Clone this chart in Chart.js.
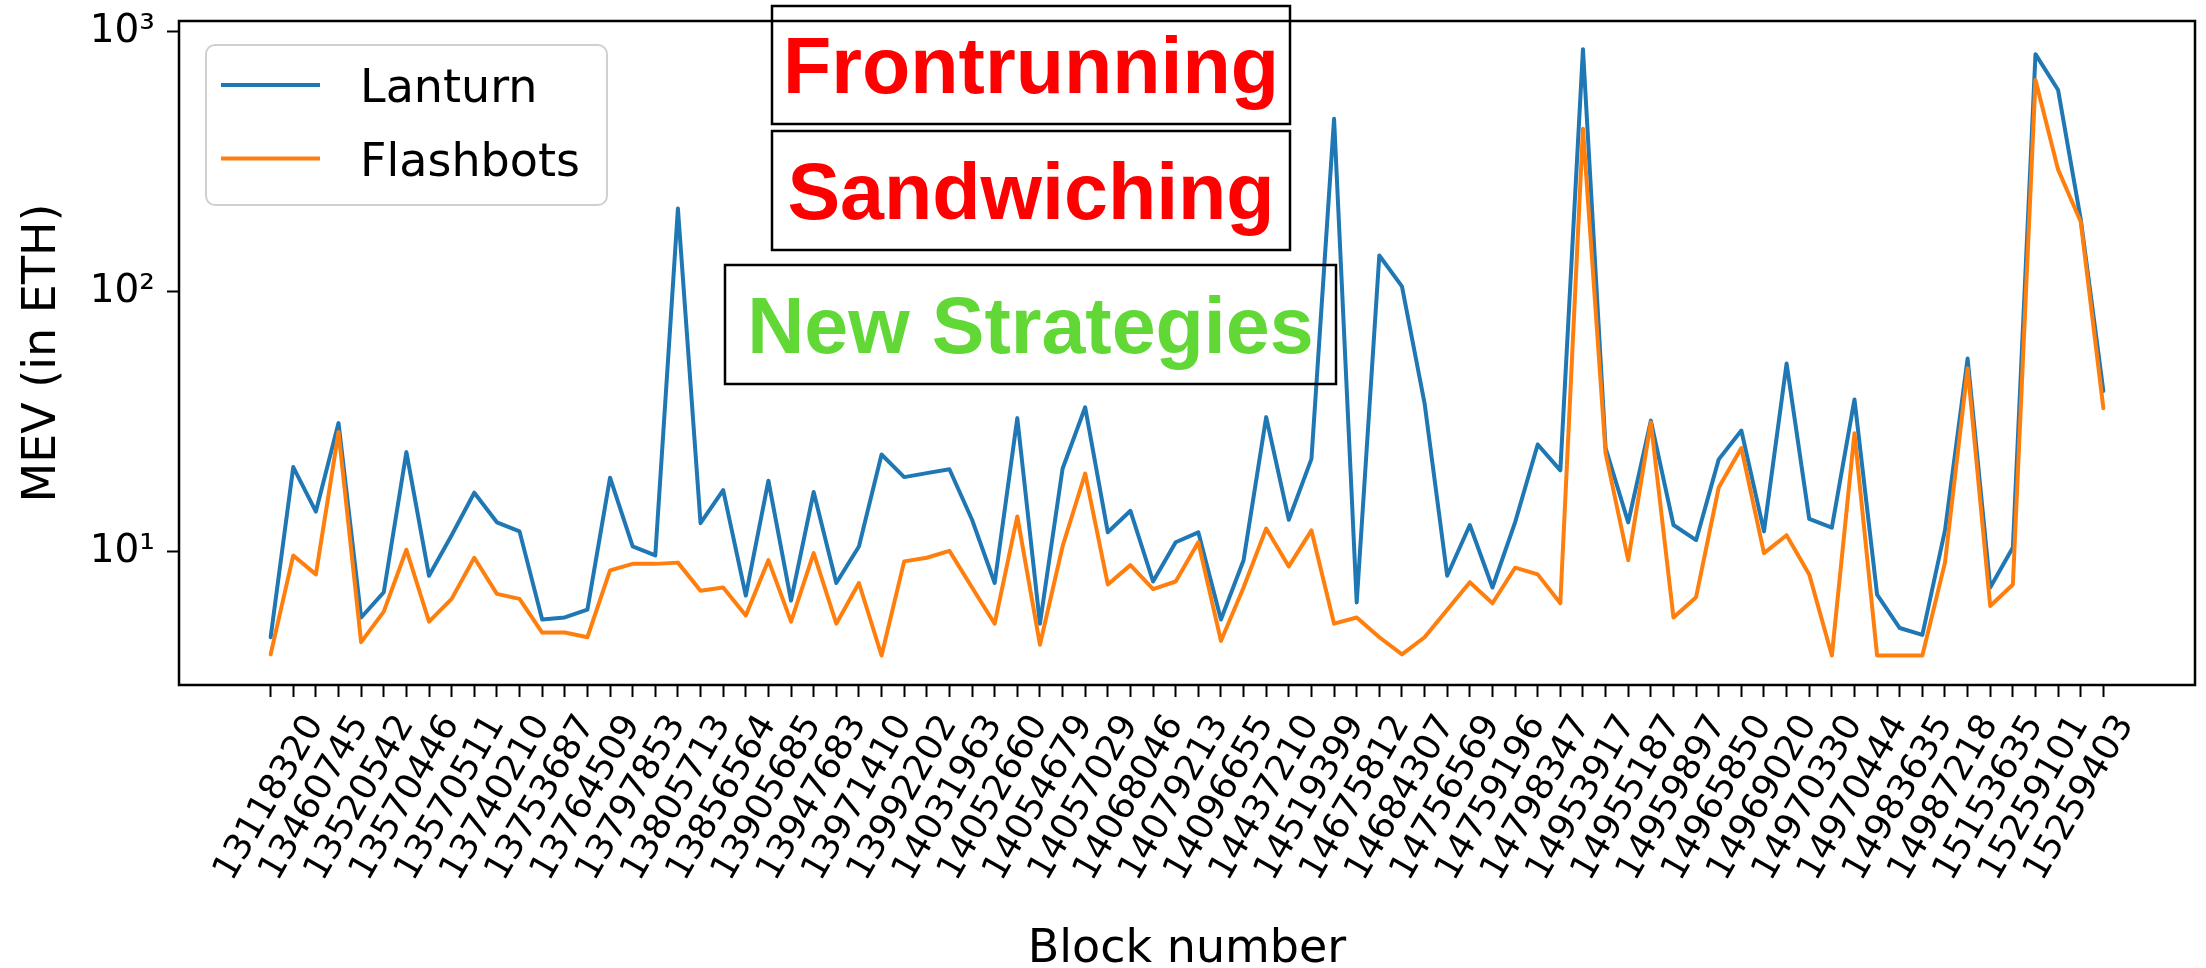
<!DOCTYPE html>
<html>
<head>
<meta charset="utf-8">
<title>MEV per block: Lanturn vs Flashbots</title>
<script src="https://cdn.jsdelivr.net/npm/chart.js@4.4.1/dist/chart.umd.min.js"></script>
<style>
  html, body { margin: 0; padding: 0; background: #ffffff; }
  #wrap { width: 2206px; height: 968px; position: relative; }
</style>
</head>
<body>
<div id="wrap"><canvas id="mev" width="2206" height="968"></canvas></div>
<script>
// Block numbers shown on the x axis (every other sampled block carries a label)
const blockLabels = [
  '13118320', '13460745', '13520542', '13570446', '13570511', '13740210', '13753687',
  '13764509', '13797853', '13805713', '13856564', '13905685', '13947683', '13971410',
  '13992202', '14031963', '14052660', '14054679', '14057029', '14068046', '14079213',
  '14096655', '14437210', '14519399', '14675812', '14684307', '14756569', '14759196',
  '14798347', '14953917', '14955187', '14959897', '14965850', '14969020', '14970330',
  '14970444', '14983635', '14987218', '15153635', '15259101', '15259403'
];

// MEV extracted per block (ETH)
const lanturn = [
  4.7, 21.2, 14.3, 31.3, 5.6, 7.0, 24.2, 8.1, 11.6, 16.9,
  13.0, 12.0, 5.5, 5.6, 6.0, 19.3, 10.5, 9.7, 209, 12.9,
  17.3, 6.8, 18.8, 6.5, 17.0, 7.6, 10.5, 23.7, 19.4, 20.1,
  20.8, 13.3, 7.6, 32.7, 5.3, 20.9, 36.0, 11.9, 14.4, 7.7,
  10.9, 11.9, 5.5, 9.3, 33.0, 13.3, 22.8, 463, 6.4, 138,
  105, 37.3, 8.1, 12.7, 7.3, 13.0, 25.9, 20.6, 857, 25.1,
  13.0, 32.0, 12.7, 11.1, 22.7, 29.3, 12.0, 53.0, 13.4, 12.4,
  38.6, 6.85, 5.1, 4.8, 12.1, 55.4, 7.3, 10.4, 820, 597,
  190, 41.6
];
const flashbots = [
  4.04, 9.7, 8.2, 28.9, 4.5, 5.9, 10.2, 5.4, 6.6, 9.5,
  6.9, 6.6, 4.9, 4.9, 4.7, 8.5, 9.0, 9.0, 9.1, 7.1,
  7.3, 5.7, 9.3, 5.4, 9.9, 5.3, 7.6, 4.0, 9.2, 9.5,
  10.1, 7.3, 5.3, 13.7, 4.4, 10.5, 20.0, 7.5, 8.9, 7.2,
  7.7, 10.9, 4.55, 7.3, 12.3, 8.8, 12.1, 5.3, 5.6, 4.7,
  4.04, 4.7, 6.0, 7.65, 6.35, 8.7, 8.2, 6.35, 424, 24.0,
  9.3, 31.5, 5.6, 6.7, 17.7, 25.1, 9.9, 11.6, 8.2, 4.0,
  28.6, 4.0, 4.0, 4.0, 9.1, 50.8, 6.2, 7.5, 653, 295,
  186, 35.7
];

// Log axis ticks
const yMajorTicks = [10, 100, 1000];
const yMajorLabels = ['10\u00B9', '10\u00B2', '10\u00B3'];
const yMinorTicks = [4, 5, 6, 7, 8, 9, 20, 30, 40, 50, 60, 70, 80, 90,
                     200, 300, 400, 500, 600, 700, 800, 900];

// Strategy tags written over the plot
const strategyTags = ['Frontrunning', 'Sandwiching', 'New Strategies'];

const pointIndex = lanturn.map((_, i) => i);
const toXY = arr => arr.map((v, i) => ({ x: i, y: v }));

const FONT = '"DejaVu Sans", "Noto Sans", sans-serif';

// Keep the plotting rectangle fixed: no extra room reserved for edge labels
const noEdgePadding = s => {
  s.paddingTop = 0; s.paddingBottom = 0; s.paddingLeft = 0; s.paddingRight = 0;
};

// Full box around the plotting area
const framePlugin = {
  id: 'frame',
  afterDatasetsDraw(chart) {
    const { ctx, chartArea: a } = chart;
    ctx.save();
    ctx.strokeStyle = '#000';
    ctx.lineWidth = 2.5;
    ctx.strokeRect(a.left, a.top, a.right - a.left, a.bottom - a.top);
    ctx.restore();
  }
};

// Boxed strategy labels
const tagPlugin = {
  id: 'strategyTags',
  afterDraw(chart) {
    const { ctx } = chart;
    const boxes = [
      { x: 772, y: 6, w: 518, h: 118, color: '#ff0000' },
      { x: 772, y: 131, w: 518, h: 119, color: '#ff0000' },
      { x: 725, y: 265, w: 611, h: 119, color: '#61d836' }
    ];
    const size = 79;
    ctx.save();
    boxes.forEach((b, i) => {
      ctx.strokeStyle = '#000';
      ctx.lineWidth = 2.5;
      ctx.strokeRect(b.x, b.y, b.w, b.h);
      ctx.fillStyle = b.color;
      ctx.font = 'bold ' + size + 'px "Liberation Sans", Arial, sans-serif';
      ctx.textAlign = 'center';
      ctx.textBaseline = 'alphabetic';
      ctx.fillText(strategyTags[i], b.x + b.w / 2, b.y + b.h / 2 + size * 0.716 / 2);
    });
    ctx.restore();
  }
};

// Legend box in the upper-left corner of the plot
const legendPlugin = {
  id: 'insetLegend',
  afterDatasetsDraw(chart) {
    const { ctx } = chart;
    const x = 206, y = 45, w = 401, h = 160, r = 9;
    ctx.save();
    ctx.beginPath();
    ctx.moveTo(x + r, y);
    ctx.arcTo(x + w, y, x + w, y + h, r);
    ctx.arcTo(x + w, y + h, x, y + h, r);
    ctx.arcTo(x, y + h, x, y, r);
    ctx.arcTo(x, y, x + w, y, r);
    ctx.closePath();
    ctx.fillStyle = 'rgba(255,255,255,0.8)';
    ctx.fill();
    ctx.strokeStyle = '#d0d0d0';
    ctx.lineWidth = 2;
    ctx.stroke();
    chart.data.datasets.forEach((ds, i) => {
      const ly = 85 + i * 73.5;
      ctx.beginPath();
      ctx.moveTo(221, ly);
      ctx.lineTo(320, ly);
      ctx.strokeStyle = ds.borderColor;
      ctx.lineWidth = 4;
      ctx.stroke();
      ctx.fillStyle = '#000';
      ctx.font = '46px ' + FONT;
      ctx.textAlign = 'left';
      ctx.textBaseline = 'alphabetic';
      ctx.fillText(ds.label, 360, ly + 17);
    });
    ctx.restore();
  }
};

new Chart(document.getElementById('mev'), {
  type: 'line',
  data: {
    datasets: [
      {
        label: 'Lanturn',
        data: toXY(lanturn),
        borderColor: '#1f77b4',
        borderWidth: 4,
        pointRadius: 0,
        tension: 0,
        borderJoinStyle: 'round',
        borderCapStyle: 'round',
        order: 1
      },
      {
        label: 'Flashbots',
        data: toXY(flashbots),
        borderColor: '#ff7f0e',
        borderWidth: 4,
        pointRadius: 0,
        tension: 0,
        borderJoinStyle: 'round',
        borderCapStyle: 'round',
        order: 0
      }
    ]
  },
  options: {
    responsive: false,
    animation: false,
    devicePixelRatio: 1,
    layout: { padding: { top: 21, right: 11, left: 0, bottom: 0 } },
    plugins: { legend: { display: false }, tooltip: { enabled: false } },
    scales: {
      x: {
        type: 'linear',
        min: -4.05,
        max: 85.05,
        afterBuildTicks: s => { s.ticks = pointIndex.map(v => ({ value: v })); },
        afterFit: s => { s.height = 283; noEdgePadding(s); },
        ticks: {
          autoSkip: false,
          minRotation: 60,
          maxRotation: 60,
          labelOffset: 45,
          padding: 11,
          color: '#000',
          font: { family: FONT, size: 36 },
          callback: v => (v % 2 === 0 ? blockLabels[v / 2] : '')
        },
        grid: { display: true, drawOnChartArea: false, drawTicks: true, tickLength: 12, tickWidth: 2, tickColor: '#000' },
        border: { display: false },
        title: {
          display: true,
          text: 'Block number',
          color: '#000',
          font: { family: FONT, size: 46, lineHeight: 0.8 },
          padding: 0
        }
      },
      y: {
        type: 'logarithmic',
        position: 'left',
        min: 3.08,
        max: 1100,
        afterBuildTicks: s => { s.ticks = yMajorTicks.map(v => ({ value: v, major: true })); },
        afterFit: s => { s.width = 179; noEdgePadding(s); },
        ticks: {
          autoSkip: false,
          padding: 12,
          color: '#000',
          font: { family: FONT, size: 39 },
          callback: v => { const k = yMajorTicks.indexOf(v); return k >= 0 ? yMajorLabels[k] : ''; }
        },
        grid: { drawOnChartArea: false, tickLength: 12, tickWidth: 2, tickColor: '#000' },
        border: { display: false },
        title: {
          display: true,
          text: 'MEV (in ETH)',
          color: '#000',
          font: { family: FONT, size: 46 },
          padding: { top: 15, bottom: 0 }
        }
      },
      yMinor: {
        type: 'logarithmic',
        position: 'left',
        min: 3.08,
        max: 1100,
        afterBuildTicks: s => { s.ticks = yMinorTicks.map(v => ({ value: v })); },
        afterFit: s => { s.width = 0; noEdgePadding(s); },
        ticks: { display: false },
        grid: { drawOnChartArea: false, tickLength: 7, tickWidth: 1.5, tickColor: '#000' },
        border: { display: false }
      }
    }
  },
  plugins: [framePlugin, legendPlugin, tagPlugin]
});
</script>
</body>
</html>
